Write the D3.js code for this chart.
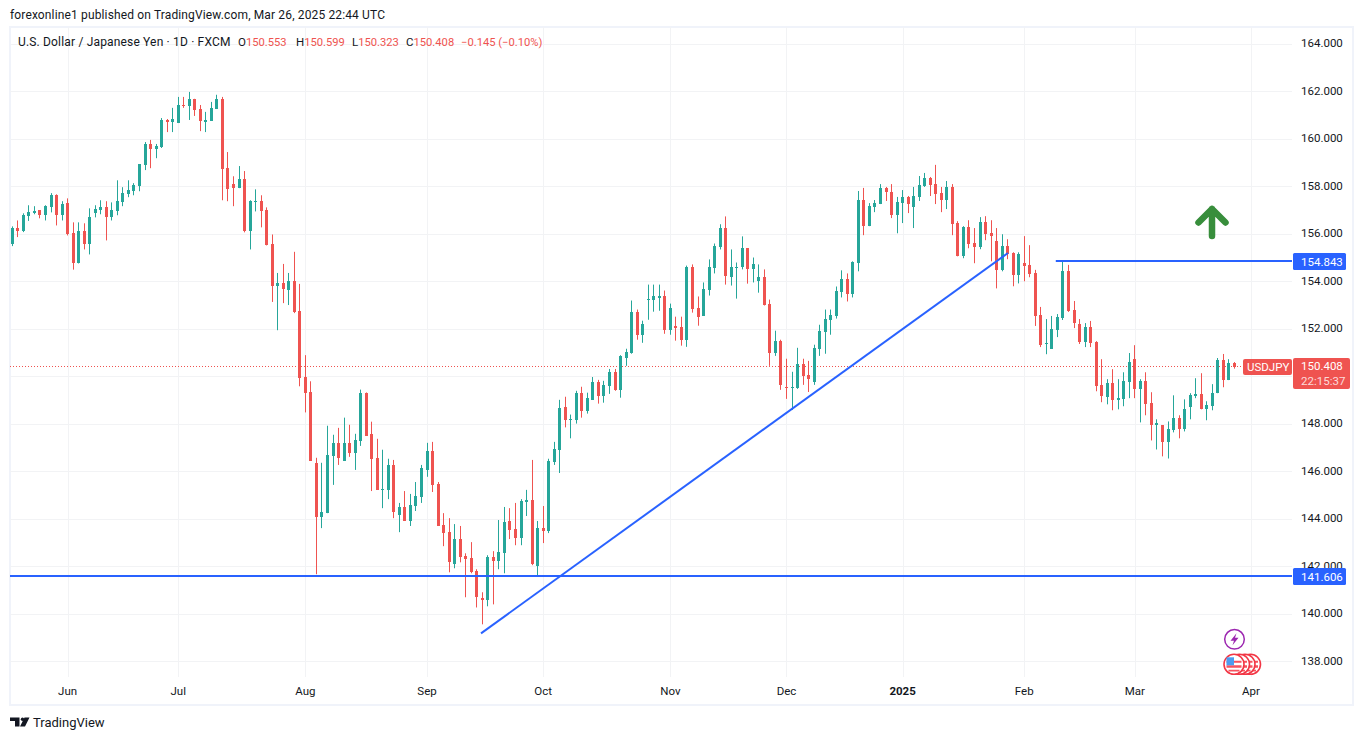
<!DOCTYPE html>
<html>
<head>
<meta charset="utf-8">
<script src="https://cdn.jsdelivr.net/npm/d3@7"></script>
<style>
    html, body { margin: 0; padding: 0; background: #fff; }
    svg { display: block; }
    text { font-family: Roboto, sans-serif; fill: #131722; }
</style>
</head>
<body>
<svg id="chart"></svg>
<script>
// USD/JPY daily candles, oldest first
const opens = [
    155.56, 156.23, 156.11, 156.73, 156.86, 156.99, 156.78, 157.11, 157.62, 156.78,
    157.28, 156.02, 154.79, 156.10, 155.55, 156.86, 156.99, 157.11, 156.69, 156.94,
    157.32, 157.66, 157.79, 158.00, 158.89, 159.78, 159.56, 159.65, 160.79, 160.71,
    160.66, 161.42, 161.38, 161.68, 161.25, 160.71, 160.75, 161.25, 161.68, 158.76,
    158.09, 157.92, 158.30, 156.10, 157.32, 157.37, 156.99, 155.55, 153.80, 153.93,
    153.63, 154.01, 152.75, 149.96, 149.32, 146.36, 144.07, 144.24, 146.65, 147.20,
    146.44, 147.20, 146.78, 147.29, 149.28, 147.58, 146.57, 145.22, 145.22, 146.27,
    144.16, 144.50, 143.91, 144.54, 144.92, 146.06, 146.86, 145.47, 143.74, 143.44,
    142.09, 143.15, 142.43, 142.34, 141.79, 140.65, 140.57, 142.39, 142.22, 142.55,
    143.91, 143.57, 143.19, 144.71, 144.79, 142.00, 143.61, 143.48, 146.40, 146.91,
    148.72, 148.18, 148.18, 149.31, 148.56, 149.01, 149.76, 149.18, 149.60, 150.18,
    149.43, 150.78, 150.99, 152.72, 151.75, 153.23, 153.23, 153.31, 153.40, 151.96,
    152.13, 152.09, 151.54, 154.62, 152.89, 152.55, 153.65, 154.54, 155.43, 156.23,
    154.16, 154.58, 154.58, 155.38, 154.50, 154.03, 154.16, 153.06, 150.99, 151.50,
    149.55, 149.51, 149.51, 150.52, 150.06, 149.77, 151.16, 151.88, 152.38, 152.55,
    153.53, 154.08, 153.45, 154.76, 157.42, 156.32, 157.12, 157.25, 157.93, 157.76,
    156.78, 157.29, 157.55, 157.12, 157.55, 158.01, 158.35, 158.09, 157.71, 157.42,
    157.97, 156.45, 155.05, 156.28, 155.60, 155.43, 156.49, 156.02, 155.69, 154.46,
    155.48, 155.18, 154.25, 154.76, 154.67, 154.36, 152.58, 151.36, 151.15, 151.95,
    152.45, 154.44, 152.79, 152.20, 151.44, 152.07, 151.44, 149.62, 149.12, 149.71,
    148.99, 149.03, 149.75, 150.72, 149.46, 149.79, 148.87, 147.94, 147.94, 147.22,
    147.72, 148.23, 147.77, 148.70, 149.16, 149.25, 148.61, 148.74, 149.29, 150.68,
    149.84, 150.553
];
const highs = [
    156.31, 156.56, 156.86, 157.20, 157.16, 156.99, 157.20, 157.71, 157.66, 157.37,
    157.49, 156.48, 156.48, 156.44, 157.07, 157.20, 157.41, 157.37, 157.32, 158.25,
    157.96, 158.25, 158.13, 158.93, 159.86, 159.95, 159.78, 160.87, 160.83, 161.30,
    161.76, 161.76, 161.97, 161.68, 161.42, 161.13, 161.55, 161.85, 161.76, 159.44,
    158.42, 158.85, 158.64, 157.41, 157.87, 157.62, 157.11, 155.97, 154.35, 154.73,
    154.35, 155.24, 153.89, 150.89, 149.79, 146.57, 146.36, 147.92, 147.54, 147.83,
    148.26, 147.96, 147.58, 149.44, 149.32, 148.09, 147.37, 146.91, 146.53, 146.48,
    144.67, 145.17, 145.05, 145.55, 146.27, 147.20, 147.24, 145.55, 144.24, 144.03,
    143.78, 143.70, 142.55, 143.02, 141.88, 140.91, 142.47, 142.64, 143.95, 144.50,
    144.45, 144.67, 144.83, 145.22, 146.48, 143.91, 144.54, 146.53, 147.24, 149.01,
    149.14, 148.39, 149.39, 149.56, 149.31, 149.97, 149.85, 149.81, 150.31, 150.31,
    150.89, 151.16, 153.19, 152.81, 152.34, 153.86, 153.86, 153.86, 153.61, 153.06,
    152.51, 152.51, 154.66, 154.71, 153.36, 153.95, 154.92, 155.59, 156.40, 156.73,
    155.34, 154.79, 155.89, 155.38, 155.00, 154.71, 154.50, 153.23, 151.92, 151.54,
    150.74, 150.19, 151.20, 150.74, 150.65, 151.33, 152.17, 152.81, 152.81, 153.78,
    154.46, 154.33, 154.84, 157.80, 157.93, 157.29, 157.42, 158.09, 157.97, 158.09,
    157.55, 157.84, 157.59, 157.97, 158.43, 158.56, 158.39, 158.90, 157.97, 158.22,
    158.09, 156.53, 156.32, 156.57, 156.24, 156.70, 156.74, 156.57, 156.24, 155.98,
    155.77, 155.22, 155.22, 155.90, 155.52, 154.48, 152.92, 152.41, 152.54, 152.62,
    154.86, 154.69, 153.17, 152.41, 152.24, 152.33, 151.48, 150.72, 149.88, 150.30,
    149.88, 150.17, 150.98, 151.31, 149.88, 150.17, 149.33, 148.19, 147.94, 148.10,
    149.20, 148.36, 149.03, 149.29, 149.92, 150.13, 148.95, 149.67, 150.77, 150.94,
    150.72, 150.599
];
const lows = [
    155.48, 155.86, 156.07, 156.54, 156.82, 156.65, 156.56, 156.90, 156.35, 156.56,
    155.93, 154.49, 154.75, 155.34, 155.13, 156.69, 156.82, 155.72, 156.56, 156.78,
    157.16, 157.54, 157.62, 157.79, 158.68, 158.76, 159.18, 159.61, 160.28, 160.28,
    160.66, 161.30, 160.79, 160.96, 160.32, 160.28, 160.75, 161.25, 157.41, 157.37,
    157.16, 157.92, 156.06, 155.34, 156.94, 156.27, 155.51, 153.13, 151.94, 153.08,
    153.00, 152.66, 149.58, 148.48, 146.44, 141.67, 143.61, 144.24, 145.43, 146.27,
    146.44, 146.61, 146.06, 147.07, 147.50, 145.17, 145.22, 144.45, 144.83, 144.03,
    143.44, 143.91, 143.70, 144.33, 144.67, 145.77, 145.13, 143.70, 142.85, 141.75,
    141.92, 142.17, 140.70, 141.71, 140.27, 139.56, 140.32, 140.40, 141.88, 141.71,
    143.15, 142.89, 142.89, 144.12, 142.05, 141.63, 142.98, 143.40, 146.27, 145.93,
    147.85, 147.39, 148.01, 148.26, 148.43, 149.01, 148.85, 148.89, 149.26, 149.39,
    149.10, 150.44, 150.95, 151.54, 151.41, 152.38, 152.72, 152.76, 151.79, 151.75,
    151.50, 151.29, 151.24, 152.68, 152.13, 152.55, 153.40, 154.33, 155.34, 153.86,
    153.82, 153.27, 154.50, 153.90, 153.95, 153.52, 152.98, 150.44, 150.86, 149.43,
    149.05, 148.58, 149.47, 149.64, 149.34, 149.64, 150.86, 150.95, 151.75, 152.43,
    153.32, 153.15, 153.32, 154.42, 155.94, 156.32, 156.91, 157.25, 157.38, 156.66,
    156.02, 156.45, 156.87, 156.24, 157.38, 157.97, 157.59, 157.25, 156.91, 157.04,
    155.94, 155.05, 154.97, 155.39, 154.76, 155.35, 155.73, 154.84, 153.70, 154.42,
    154.93, 153.79, 153.91, 154.00, 154.17, 152.12, 151.23, 150.93, 151.15, 151.65,
    152.37, 152.71, 152.03, 151.36, 151.23, 151.23, 149.37, 148.91, 148.82, 148.57,
    148.61, 148.74, 149.08, 149.08, 148.06, 148.36, 147.30, 146.92, 146.63, 146.54,
    147.64, 147.39, 147.68, 148.19, 149.08, 148.61, 148.15, 148.57, 149.29, 149.54,
    149.84, 150.323
];
const closes = [
    156.23, 156.11, 156.78, 156.90, 156.94, 156.78, 157.16, 157.62, 156.78, 157.24,
    155.97, 154.79, 156.10, 155.55, 156.69, 157.03, 157.11, 156.69, 156.99, 157.37,
    157.71, 157.83, 158.04, 158.93, 159.78, 159.56, 159.69, 160.79, 160.71, 160.83,
    161.42, 161.38, 161.68, 161.21, 160.75, 160.79, 161.30, 161.68, 158.72, 157.87,
    157.92, 158.30, 156.10, 157.37, 157.37, 156.94, 155.51, 153.80, 153.93, 153.67,
    154.01, 152.70, 149.92, 149.28, 146.44, 144.07, 144.29, 146.69, 147.20, 146.57,
    147.20, 146.78, 147.33, 149.31, 147.50, 146.53, 145.22, 145.26, 146.27, 144.29,
    144.50, 143.91, 144.58, 144.96, 146.15, 146.86, 145.43, 143.70, 143.40, 142.17,
    143.15, 142.39, 142.30, 141.75, 140.70, 140.57, 142.39, 142.22, 142.60, 143.86,
    143.53, 143.19, 144.75, 144.79, 142.09, 143.61, 143.48, 146.44, 146.95, 148.68,
    148.18, 148.22, 149.31, 148.56, 149.10, 149.76, 149.18, 149.64, 150.18, 149.43,
    150.85, 151.03, 152.72, 151.75, 152.21, 153.27, 153.36, 153.40, 151.96, 152.89,
    152.05, 151.54, 154.62, 152.85, 152.51, 153.69, 154.58, 155.47, 156.23, 154.24,
    154.62, 154.62, 155.38, 154.50, 154.71, 154.16, 153.02, 150.99, 151.50, 149.64,
    149.51, 149.55, 150.52, 150.02, 149.89, 151.20, 151.92, 152.43, 152.60, 153.57,
    154.08, 153.45, 154.80, 157.42, 156.32, 157.17, 157.29, 157.93, 157.76, 156.78,
    157.33, 157.55, 157.25, 157.59, 158.05, 158.35, 158.05, 157.67, 157.42, 157.97,
    156.40, 155.05, 156.28, 155.56, 155.43, 156.49, 155.98, 155.90, 154.46, 155.48,
    155.14, 154.25, 155.14, 154.63, 154.29, 152.54, 151.31, 151.40, 151.99, 152.50,
    154.44, 152.75, 152.24, 151.44, 152.07, 151.40, 149.58, 149.16, 149.71, 148.99,
    149.08, 149.79, 150.60, 149.46, 149.79, 148.82, 147.94, 148.02, 147.22, 147.77,
    148.23, 147.77, 148.61, 149.20, 149.25, 148.61, 148.78, 149.29, 150.68, 149.84,
    150.55, 150.408
];

// month labels and the candle index each one sits on
const monthLabels = ['Jun', 'Jul', 'Aug', 'Sep', 'Oct', 'Nov', 'Dec', '2025', 'Feb', 'Mar', 'Apr'];
const monthIndex = [10, 30, 53, 75, 96, 119, 140, 161, 183, 203, 224];
const priceTicks = [138, 140, 142, 144, 146, 148, 150, 152, 154, 156, 158, 160, 162, 164];
// 150.000 sits fully behind the last price box, so it gets a grid line but no label
const priceLabels = priceTicks.filter(d => d !== 150);

// drawn lines: two horizontal levels and the rising trend line
const lastPrice = 150.408;
const levelHigh = 154.843;
const levelLow = 141.606;
const levelHighStart = 188.7;
const trendIndex = [84.76, 180.05];
const trendPrice = [139.18, 155.19];

const legendParts = [
    ['O', '150.553', 238],
    ['H', '150.599', 296],
    ['L', '150.323', 352],
    ['C', '150.408', 406]
];

const width = 1364;
const height = 740;
const green = '#26a69a';
const red = '#ef5350';
const blue = '#2962ff';
const gridColor = '#f2f3f5';
const frameColor = '#f0f3fa';
const plotLeft = 10;
const plotRight = 1292;
const plotTop = 27;
const plotBottom = 677;

const svg = d3.select('#chart').attr('width', width).attr('height', height);

const x = d3.scaleLinear().domain([0, 221]).range([12.3, 1234.4]);
const y = d3.scaleLinear().domain([138, 164]).range([661.4, 43.7]);

// frame
svg.append('rect')
    .attr('x', 10).attr('y', 27)
    .attr('width', 1343).attr('height', 678)
    .attr('fill', 'none')
    .attr('stroke', frameColor)
    .attr('stroke-width', 2);

// grid
svg.selectAll('.h-grid')
    .data(priceTicks)
    .enter()
    .append('line')
    .attr('class', 'h-grid')
    .attr('x1', plotLeft).attr('x2', plotRight)
    .attr('y1', d => Math.round(y(d)) + 0.5)
    .attr('y2', d => Math.round(y(d)) + 0.5)
    .attr('stroke', gridColor);

svg.selectAll('.v-grid')
    .data(monthIndex)
    .enter()
    .append('line')
    .attr('class', 'v-grid')
    .attr('x1', d => Math.round(x(d)) + 0.5)
    .attr('x2', d => Math.round(x(d)) + 0.5)
    .attr('y1', plotTop).attr('y2', plotBottom)
    .attr('stroke', gridColor);

// last price dotted line
svg.append('line')
    .attr('x1', plotLeft).attr('x2', 1243)
    .attr('y1', Math.floor(y(lastPrice)) + 0.5)
    .attr('y2', Math.floor(y(lastPrice)) + 0.5)
    .attr('stroke', red)
    .attr('stroke-dasharray', '1 2');

// candles
const candles = opens.map((o, i) => ({ i, o, h: highs[i], l: lows[i], c: closes[i] }));
const cx = d => Math.round(x(d.i) - 0.5) + 0.5;
const candleColor = d => (d.c >= d.o ? green : red);

svg.selectAll('.wick')
    .data(candles)
    .enter()
    .append('line')
    .attr('class', 'wick')
    .attr('x1', cx).attr('x2', cx)
    .attr('y1', d => y(d.h))
    .attr('y2', d => y(d.l))
    .attr('stroke', candleColor);

svg.selectAll('.body')
    .data(candles)
    .enter()
    .append('rect')
    .attr('class', 'body')
    .attr('x', d => cx(d) - 1.5)
    .attr('width', 3)
    .attr('y', d => Math.round(y(Math.max(d.o, d.c))))
    .attr('height', d => Math.max(1, Math.round(y(Math.min(d.o, d.c))) - Math.round(y(Math.max(d.o, d.c)))))
    .attr('fill', candleColor);

// drawn lines
svg.append('line')
    .attr('x1', plotLeft).attr('x2', plotRight)
    .attr('y1', Math.round(y(levelLow))).attr('y2', Math.round(y(levelLow)))
    .attr('stroke', blue).attr('stroke-width', 2);

svg.append('line')
    .attr('x1', x(levelHighStart)).attr('x2', plotRight)
    .attr('y1', Math.round(y(levelHigh))).attr('y2', Math.round(y(levelHigh)))
    .attr('stroke', blue).attr('stroke-width', 2);

svg.append('line')
    .attr('x1', x(trendIndex[0])).attr('y1', y(trendPrice[0]))
    .attr('x2', x(trendIndex[1])).attr('y2', y(trendPrice[1]))
    .attr('stroke', blue).attr('stroke-width', 2);

// up arrow
svg.append('path')
    .attr('d', 'M1212 236V209M1198.500 222.500L1212 209L1225.500 222.500')
    .attr('fill', 'none')
    .attr('stroke', '#388e3c')
    .attr('stroke-width', 6.5)
    .attr('stroke-linecap', 'round')
    .attr('stroke-linejoin', 'round');

// price axis
const priceAxis = d3.axisRight(y)
    .tickValues(priceLabels)
    .tickSize(0)
    .tickPadding(0)
    .tickFormat(d3.format('.3f'));

const priceG = svg.append('g')
    .attr('transform', 'translate(1301,0)')
    .call(priceAxis);
priceG.select('.domain').remove();
priceG.selectAll('text')
    .attr('dy', '0.27em')
    .attr('font-size', 11.5)
    .attr('font-family', 'Roboto, sans-serif')
    .style('fill', '#131722');

// time axis
const timeAxis = d3.axisBottom(x)
    .tickValues(monthIndex)
    .tickSize(0)
    .tickPadding(0)
    .tickFormat((d, i) => monthLabels[i]);

const timeG = svg.append('g')
    .attr('transform', 'translate(-0.5,685)')
    .call(timeAxis);
timeG.select('.domain').remove();
timeG.selectAll('text')
    .attr('dy', 10)
    .attr('y', 0)
    .attr('font-size', 11.5)
    .attr('font-family', 'Roboto, sans-serif')
    .attr('font-weight', (d, i) => (monthLabels[i] === '2025' ? 700 : 400))
    .style('fill', '#131722');

// price labels on the axis
[[levelHigh, '154.843'], [levelLow, '141.606']].forEach(([p, label]) => {
    svg.append('rect')
        .attr('x', 1293).attr('y', Math.round(y(p)) - 8)
        .attr('width', 53).attr('height', 17)
        .attr('rx', 1.5)
        .attr('fill', blue);
    svg.append('text')
        .attr('x', 1301).attr('y', Math.round(y(p)) + 4.5)
        .attr('font-size', 11.5)
        .style('fill', '#fff')
        .text(label);
});

svg.append('rect')
    .attr('x', 1243).attr('y', 359)
    .attr('width', 49).attr('height', 16)
    .attr('rx', 2)
    .attr('fill', red);
svg.append('text')
    .attr('x', 1247).attr('y', 371)
    .attr('font-size', 11.5)
    .style('fill', '#fff')
    .text('USDJPY');

svg.append('rect')
    .attr('x', 1293).attr('y', 358)
    .attr('width', 57).attr('height', 31)
    .attr('rx', 2)
    .attr('fill', red);
svg.append('text')
    .attr('x', 1301).attr('y', 369.5)
    .attr('font-size', 11.5)
    .style('fill', '#fff')
    .text('150.408');
svg.append('text')
    .attr('x', 1301).attr('y', 385)
    .attr('font-size', 11.5)
    .style('fill', '#fff')
    .style('fill-opacity', 0.8)
    .text('22:15:37');

// header and legend
svg.append('text')
    .attr('x', 10).attr('y', 19)
    .attr('font-size', 12)
    .style('letter-spacing', '0.14px')
    .text('forexonline1 published on TradingView.com, Mar 26, 2025 22:44 UTC');

svg.append('text')
    .attr('x', 18).attr('y', 46)
    .attr('font-size', 12)
    .style('letter-spacing', '0.17px')
    .text('U.S. Dollar / Japanese Yen \u00b7 1D \u00b7 FXCM');

legendParts.forEach(([key, value, lx]) => {
    const t = svg.append('text')
        .attr('x', lx).attr('y', 46)
        .attr('font-size', 11.5);
    t.append('tspan').text(key);
    t.append('tspan').style('fill', red).attr('font-size', 11.2).text(value);
});

svg.append('text')
    .attr('x', 461).attr('y', 46)
    .attr('font-size', 11.2)
    .style('fill', red)
    .text('\u22120.145 (\u22120.10%)');

// event badges near the last candle
const bolt = svg.append('g').attr('transform', 'translate(1234.500,639.300)');
bolt.append('circle')
    .attr('r', 9.8)
    .attr('fill', '#fff')
    .attr('stroke', '#9c27b0')
    .attr('stroke-width', 1.5);
bolt.append('path')
    .attr('d', 'M2 -6L-4 1.500H-0.500L-2 6L4 -1.500H0.500Z')
    .attr('fill', '#9c27b0');

// flag badges, back to front
[1250.5, 1245, 1239.5, 1234].forEach((cxFlag, i) => {
    const badge = svg.append('g').attr('transform', `translate(${cxFlag},664.300)`);
    badge.append('circle')
        .attr('r', 10)
        .attr('fill', '#fff')
        .attr('stroke', '#f23645')
        .attr('stroke-width', 1.6);
    badge.append('path')
        .attr('d', 'M-7.500 -3.500H7.500V-1.500H-7.500ZM-7.500 1H7.500V3.500H-7.500ZM-5.500 5.500H5.500V7.200H-5.500Z')
        .attr('fill', '#f7525f');
    if (i === 3) {
        badge.append('path')
            .attr('d', 'M-7.500 -7H0V1H-7.500Z')
            .attr('fill', '#4c9cf0');
    }
});

// logo
svg.append('path')
    .attr('d', 'M10 717.500H19.500V726.500H15V721H10ZM24.500 717.500H29.500L25 726.500H20Z')
    .attr('fill', '#131722');
svg.append('circle')
    .attr('cx', 22.500).attr('cy', 719.300)
    .attr('r', 1.700)
    .attr('fill', '#131722');
svg.append('text')
    .attr('x', 33).attr('y', 727)
    .attr('font-size', 13)
    .text('TradingView');
</script>
</body>
</html>
